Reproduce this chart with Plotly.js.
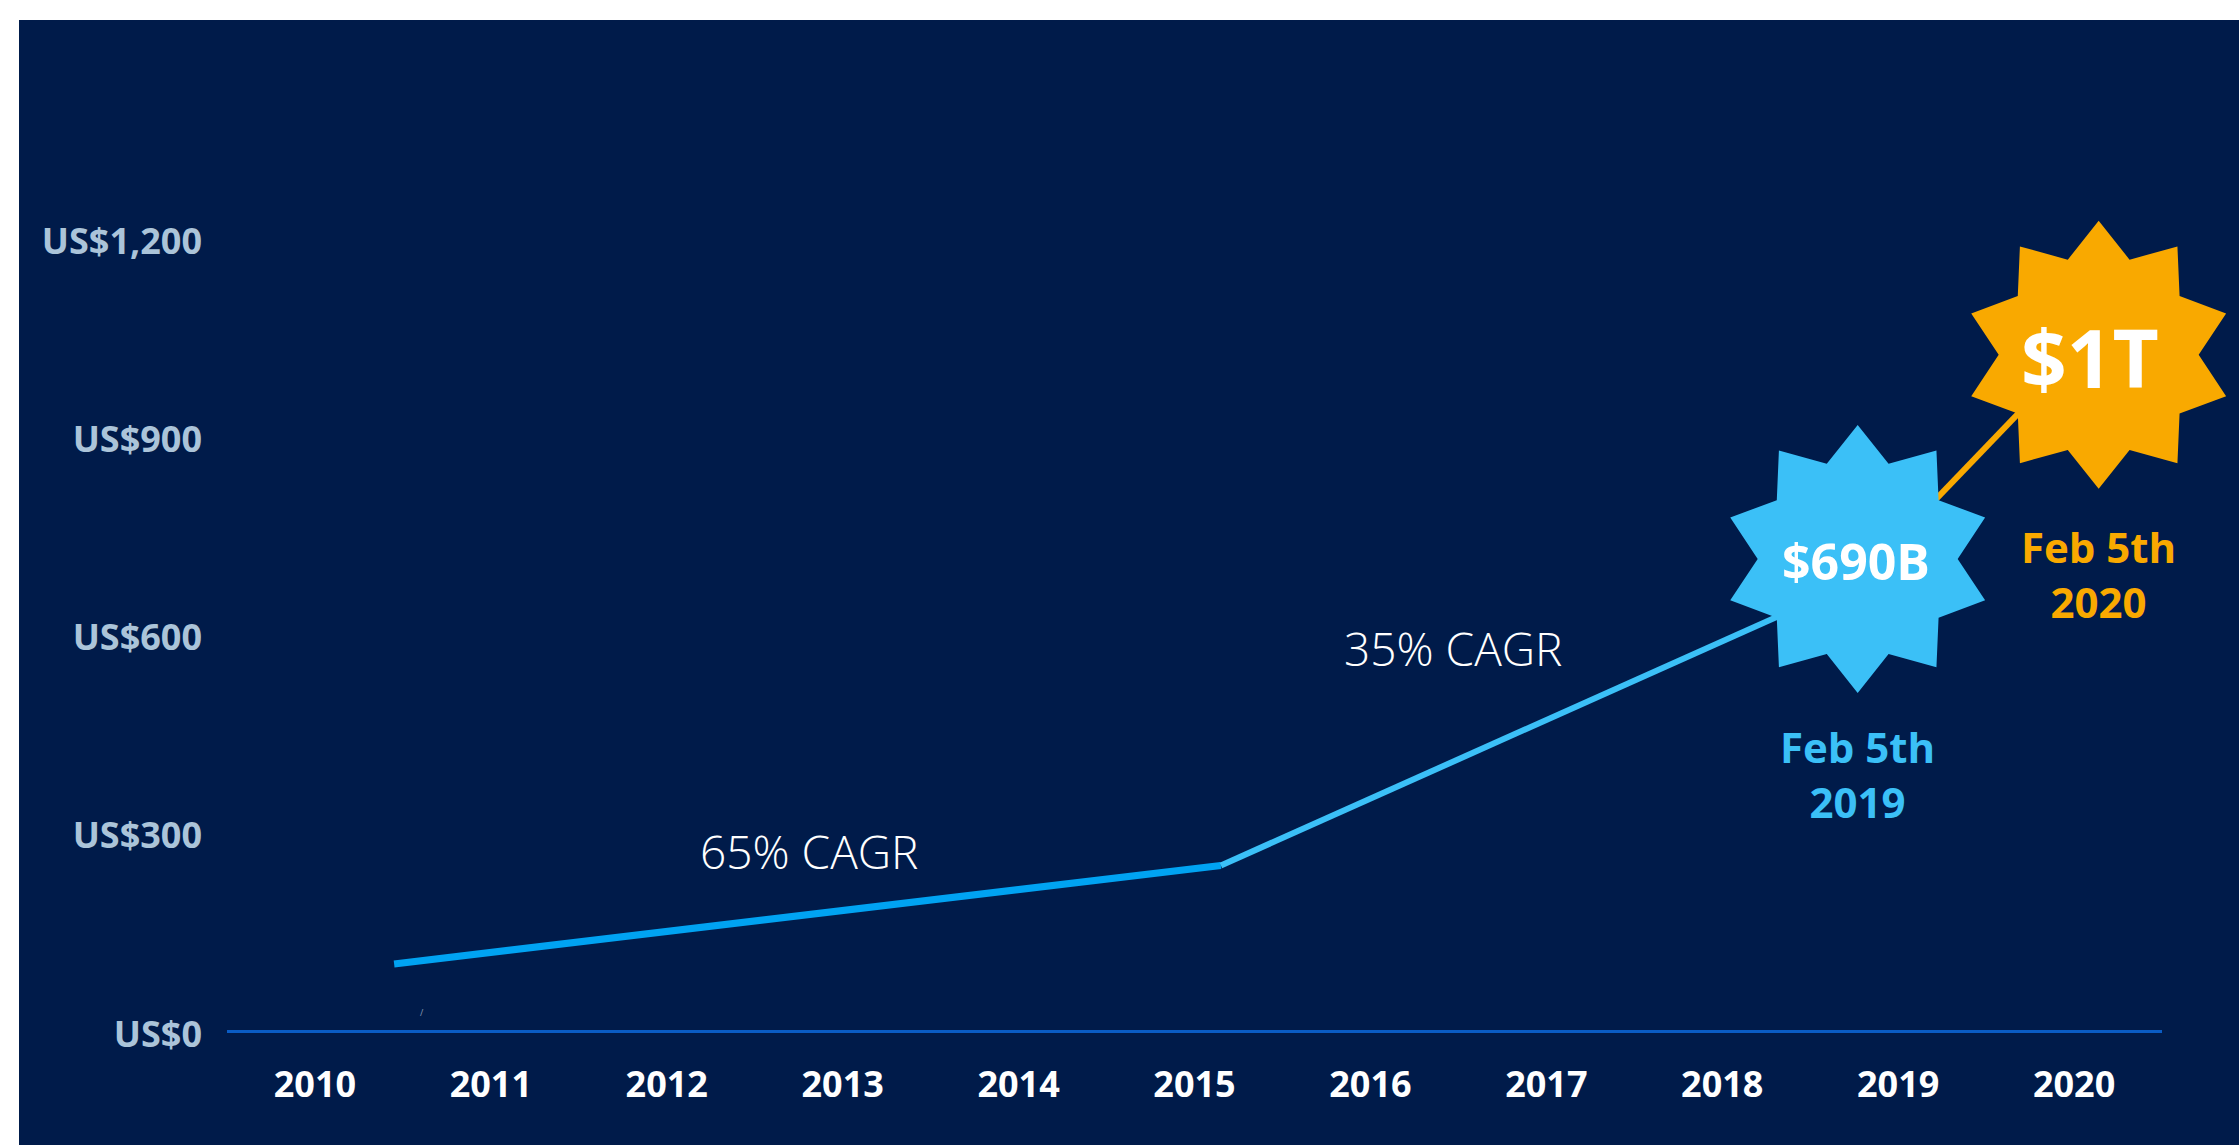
<!DOCTYPE html>
<html>
<head>
<meta charset="utf-8">
<script src="https://cdn.plot.ly/plotly-3.0.1.min.js"></script>
<style>
  html, body { margin: 0; padding: 0; background: #ffffff; width: 2239px; height: 1145px; overflow: hidden; }
  #chart { position: absolute; left: 19px; top: 20px; width: 2220px; height: 1125px; }
</style>
</head>
<body>
<div id="chart"></div>
<script>
// ---- data ----
const years = [2010, 2011, 2012, 2013, 2014, 2015, 2016, 2017, 2018, 2019, 2020];
const yearLabels = ['2010', '2011', '2012', '2013', '2014', '2015', '2016', '2017', '2018', '2019', '2020'];
const yTickVals = [0, 300, 600, 900, 1200];
const yTickLabels = ['US$0', 'US$300', 'US$600', 'US$900', 'US$1,200'];

const earlyX = [2010.45, 2015.15];
const earlyY = [100, 249];
const lateX = [2015.15, 2018.77];
const lateY = [249, 680];
const finalX = [2018.77, 2020.14];
const finalY = [680, 1060];

const starX = [2018.77, 2020.14];
const starY = [713, 1022];
const starValues = ['$690B', '$1T'];
const starDates = ['Feb 5th<br>2019', 'Feb 5th<br>2020'];

const cagrX = [2012.81, 2016.47];
const cagrY = [271, 578];
const cagrLabels = ['65% CAGR', '35% CAGR'];

// ---- styles ----
const NAVY = '#001b4a';
const BLUE_DARK = '#00a3f2';
const BLUE_LIGHT = '#3bc0f7';
const ORANGE = '#f9a900';
const starColors = [BLUE_LIGHT, ORANGE];
const FONT = '"Open Sans", "DejaVu Sans", sans-serif';

const xRange = [2009.5, 2020.5];
const yRange = [0, 1500];
const toPaperX = v => (v - xRange[0]) / (xRange[1] - xRange[0]);
const toPaperY = v => (v - yRange[0]) / (yRange[1] - yRange[0]);

function starPath(rOut, rIn, n) {
  let d = '';
  for (let i = 0; i < 2 * n; i++) {
    const a = (90 - i * 180 / n) * Math.PI / 180;
    const r = i % 2 === 0 ? rOut : rIn;
    d += (i === 0 ? 'M ' : ' L ') + (r * Math.cos(a)).toFixed(2) + ',' + (r * Math.sin(a)).toFixed(2);
  }
  return d + ' Z';
}

const traces = [
  { x: earlyX, y: earlyY, mode: 'lines', line: { color: BLUE_DARK, width: 7 }, hoverinfo: 'skip' },
  { x: lateX, y: lateY, mode: 'lines', line: { color: BLUE_LIGHT, width: 6 }, hoverinfo: 'skip' },
  { x: finalX, y: finalY, mode: 'lines', line: { color: ORANGE, width: 6 }, hoverinfo: 'skip' }
];

const shapes = starX.map((sx, i) => ({
  type: 'path',
  xref: 'paper', yref: 'paper',
  xsizemode: 'pixel', ysizemode: 'pixel',
  xanchor: toPaperX(sx), yanchor: toPaperY(starY[i]),
  path: starPath(134, 100, 10),
  fillcolor: starColors[i],
  line: { width: 0 },
  layer: 'above'
}));

const annotations = [];
starX.forEach((sx, i) => {
  annotations.push({
    x: sx, y: starY[i], xref: 'x', yref: 'y', showarrow: false,
    text: '<b>' + starValues[i] + '</b>',
    font: { family: FONT, size: i === 0 ? 50 : 80, color: '#ffffff' },
    xanchor: 'center', yanchor: 'middle',
    xshift: i === 0 ? -2 : -9, yshift: -2
  });
  annotations.push({
    x: sx, y: starY[i], xref: 'x', yref: 'y', showarrow: false,
    text: '<b>' + starDates[i] + '</b>',
    font: { family: FONT, size: 42, color: starColors[i] },
    xanchor: 'center', yanchor: 'middle', align: 'center',
    yshift: i === 0 ? -215 : -219
  });
});
cagrX.forEach((cx, i) => {
  annotations.push({
    x: cx, y: cagrY[i], xref: 'x', yref: 'y', showarrow: false,
    text: cagrLabels[i],
    font: { family: FONT, size: 46, color: '#ffffff', weight: 300 },
    xanchor: 'center', yanchor: 'middle'
  });
});
annotations.push({
  x: 2010.61, y: 26, xref: 'x', yref: 'y', showarrow: false,
  text: '/', font: { family: FONT, size: 9, color: '#8c9bb5' },
  xanchor: 'center', yanchor: 'middle'
});

const layout = {
  width: 2220, height: 1125,
  paper_bgcolor: NAVY, plot_bgcolor: NAVY,
  margin: { l: 208, r: 77, t: 19, b: 115 },
  showlegend: false,
  xaxis: {
    range: xRange,
    tickvals: years, ticktext: yearLabels,
    showgrid: false, zeroline: false,
    showline: true, linecolor: '#0a5cc4', linewidth: 3,
    ticks: '', ticklabelstandoff: 21,
    tickfont: { family: FONT, size: 36, color: '#ffffff', weight: 700 }
  },
  yaxis: {
    range: yRange,
    tickvals: yTickVals, ticktext: yTickLabels,
    showgrid: false, zeroline: false, showline: false,
    ticks: '', ticklabelstandoff: 24, ticklabelshift: 4,
    tickfont: { family: FONT, size: 36, color: '#abc4d9', weight: 700 }
  },
  shapes: shapes,
  annotations: annotations
};

Plotly.newPlot('chart', traces, layout, { displayModeBar: false, staticPlot: true });
</script>
</body>
</html>
